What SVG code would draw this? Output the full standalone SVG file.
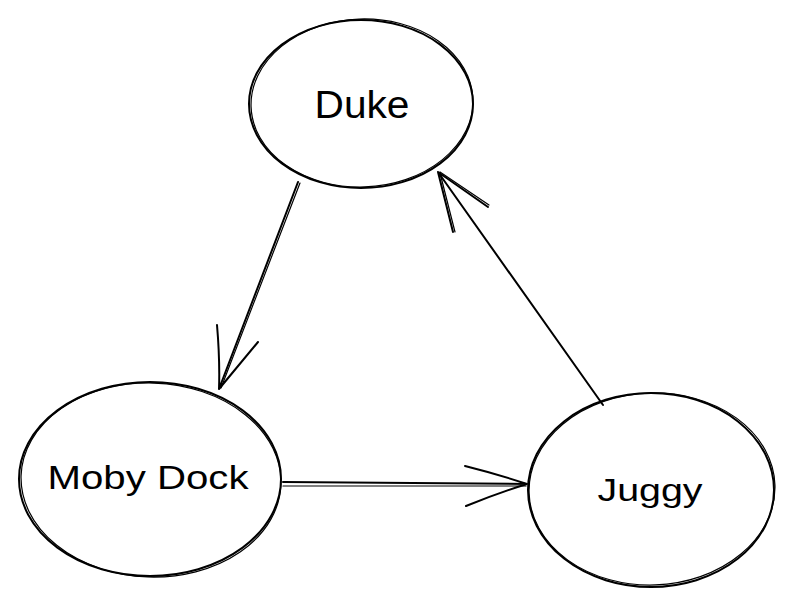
<svg xmlns="http://www.w3.org/2000/svg" width="792" height="608" viewBox="0 0 792 608">
<style>
.s{fill:none;stroke:#000;stroke-width:2;stroke-linecap:round;stroke-linejoin:round}
.t{fill:none;stroke:#000;stroke-width:1.2;stroke-linecap:round}
.l{font-family:"Liberation Sans","Noto Sans",sans-serif;fill:#000;text-anchor:middle}
</style>
<rect width="792" height="608" fill="#fff"/>
<g id="duke">
<ellipse class="s" cx="361" cy="104" rx="112" ry="84"/>
<ellipse class="t" cx="362" cy="103" rx="111" ry="84" transform="rotate(-2 362 103)"/>
<text class="l" x="362" y="118" font-size="38" textLength="95" lengthAdjust="spacingAndGlyphs">Duke</text>
</g>
<g id="moby">
<ellipse class="s" cx="150" cy="479" rx="131" ry="97"/>
<ellipse class="t" cx="151" cy="480" rx="130" ry="97" transform="rotate(2 151 480)"/>
<text class="l" x="148" y="489" font-size="33" textLength="201" lengthAdjust="spacingAndGlyphs">Moby Dock</text>
</g>
<g id="juggy">
<ellipse class="s" cx="651" cy="490" rx="123" ry="97"/>
<ellipse class="t" cx="652" cy="489" rx="123" ry="96" transform="rotate(-2 652 489)"/>
<text class="l" x="650" y="501" font-size="31" textLength="105" lengthAdjust="spacingAndGlyphs">Juggy</text>
</g>
<g id="connectors">
<path class="s" d="M298 182 L219 389 M217 325 Q220 360 219 389 M258 342 Q238 366 219 389"/>
<path class="t" d="M300 183 L221 388"/>
<path class="s" d="M283 482 L527 484 M465 466 Q497 474 527 484 M466 506 Q498 493 527 484"/>
<path class="t" d="M283 486 L526 486"/>
<path class="s" d="M603 405 L438 172 M453 232 L438 172 M488 207 L438 172"/>
<path class="t" d="M455 232 L440 173 M489 205 L440 172"/>
</g>
</svg>
